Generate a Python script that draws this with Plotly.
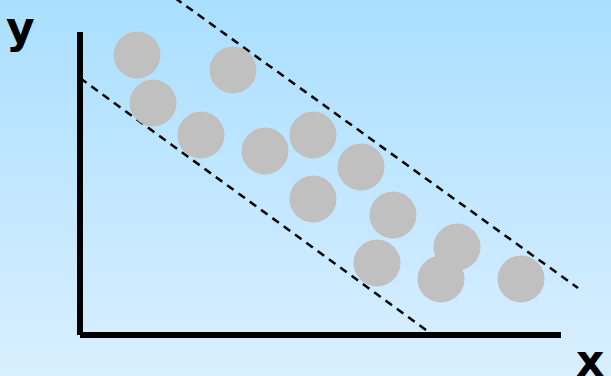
import plotly.graph_objects as go

# Data (arbitrary units: origin at the axes corner)
x_vals = [57, 153, 73, 121, 185, 233, 281, 233, 313, 377, 297, 361, 441]
y_vals = [280, 265, 232, 200, 184, 200, 168, 136, 120, 88, 72, 56, 56]

# dashed band boundaries
lower_x = [0, 346]
lower_y = [257, 5]
upper_x = [95, 498]
upper_y = [337, 47]

# axis extents
x_axis_end = 481
y_axis_end = 303

axis_label_x = "x"
axis_label_y = "y"

W, H = 611, 376
top_rgb = (170, 223, 255)
bot_rgb = (217, 239, 255)

shapes = []
n = 94
for i in range(n):
    t = i / (n - 1)
    c = tuple(round(a + (b - a) * t) for a, b in zip(top_rgb, bot_rgb))
    shapes.append(dict(type="rect", xref="paper", yref="paper",
                       x0=0, x1=1, y0=1 - (i + 1) / n - 0.001, y1=1 - i / n,
                       fillcolor="rgb(%d,%d,%d)" % c, line=dict(width=0), layer="below"))

# axis lines
shapes.append(dict(type="line", x0=0, x1=x_axis_end, y0=0, y1=0,
                   line=dict(color="black", width=6), layer="above"))
shapes.append(dict(type="line", x0=0, x1=0, y0=0, y1=y_axis_end,
                   line=dict(color="black", width=6), layer="above"))

fig = go.Figure()
fig.add_trace(go.Scatter(x=lower_x, y=lower_y, mode="lines",
                         line=dict(color="black", width=2.5, dash="8px,6px"), hoverinfo="skip"))
fig.add_trace(go.Scatter(x=upper_x, y=upper_y, mode="lines",
                         line=dict(color="black", width=2.5, dash="8px,6px"), hoverinfo="skip"))
fig.add_trace(go.Scatter(x=x_vals, y=y_vals, mode="markers",
                         marker=dict(size=47, color="#C0C0C0", line=dict(width=0)),
                         opacity=1))

fig.add_annotation(x=-60, y=308, text="<b>%s</b>" % axis_label_y, showarrow=False,
                   font=dict(family="DejaVu Sans", size=44, color="black"),
                   xanchor="center", yanchor="middle")
fig.add_annotation(x=510, y=-25, text="<b>%s</b>" % axis_label_x, showarrow=False,
                   font=dict(family="DejaVu Sans", size=44, color="black"),
                   xanchor="center", yanchor="middle")

fig.update_layout(
    width=W, height=H, margin=dict(l=0, r=0, t=0, b=0),
    paper_bgcolor="rgb(200,232,255)", plot_bgcolor="rgba(0,0,0,0)",
    showlegend=False, shapes=shapes,
    xaxis=dict(range=[-80, 531], visible=False, fixedrange=True),
    yaxis=dict(range=[-41, 335], visible=False, fixedrange=True),
)
fig.write_html("out.html", config={"displayModeBar": False},
               post_script="document.body.style.margin='0';document.body.style.overflow='hidden';")
